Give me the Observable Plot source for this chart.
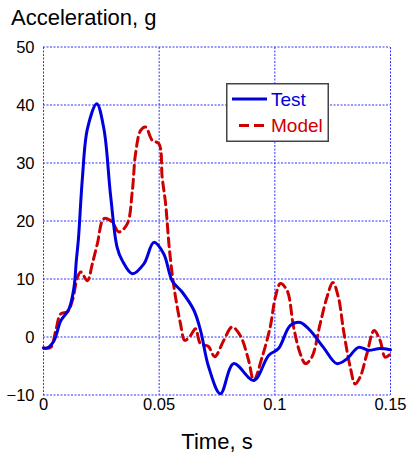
<!DOCTYPE html>
<html>
<head>
<meta charset="utf-8">
<script src="https://cdn.jsdelivr.net/npm/d3@7"></script>
<script src="https://cdn.jsdelivr.net/npm/@observablehq/plot@0.6"></script>
<style>
  html, body { margin: 0; padding: 0; background: #fff; }
  #wrap { position: relative; width: 407px; height: 456px; font-family: "Liberation Sans", Arial, sans-serif; }
  #title { position: absolute; left: 11px; top: 7px; font-size: 22px; line-height: 22px; color: #000; }
  #legend { position: absolute; left: 226px; top: 83px; }
  svg.chart text { fill: #000; }
  svg.chart g[aria-label="x-axis label"] text { font-size: 22px; }
</style>
</head>
<body>
<div id="wrap">
  <div id="title">Acceleration, g</div>
</div>
<script>
// Test series (time in s, acceleration in g)
const testTime = [0, 0.0017, 0.0046, 0.0075, 0.011, 0.0132, 0.0142, 0.0151, 0.0168, 0.019, 0.023, 0.0261, 0.029, 0.0318, 0.034, 0.0384, 0.0434, 0.0477, 0.052, 0.0556, 0.06, 0.065, 0.0679, 0.0714, 0.0765, 0.0822, 0.0909, 0.0973, 0.1016, 0.1067, 0.111, 0.1153, 0.121, 0.1268, 0.1311, 0.1362, 0.1405, 0.1455, 0.15];
const testAccel = [-1.8, -1.8, -0.5, 2.9, 4.9, 8.7, 13.3, 17, 27.4, 36, 40.3, 36, 24.5, 15.6, 13.3, 11, 12.7, 16.4, 14.4, 9.8, 7.8, 4.7, 1.2, -5.1, -9.7, -4.5, -7.4, -3.1, -1.9, 2.1, 2.6, 1.2, -1.7, -4.5, -3.7, -1.7, -2.2, -1.9, -2.1];

// Model series
const modelTime = [0, 0.0031, 0.0053, 0.0075, 0.0103, 0.0125, 0.0147, 0.0161, 0.019, 0.0211, 0.0233, 0.0261, 0.0295, 0.0326, 0.0362, 0.0384, 0.0398, 0.042, 0.0441, 0.047, 0.0499, 0.0513, 0.0528, 0.0542, 0.0556, 0.0571, 0.0592, 0.0611, 0.0635, 0.0657, 0.0679, 0.0712, 0.074, 0.0779, 0.0815, 0.0851, 0.0887, 0.0909, 0.0945, 0.098, 0.1002, 0.1024, 0.1053, 0.1081, 0.111, 0.1132, 0.116, 0.1196, 0.1225, 0.1251, 0.1275, 0.1297, 0.1326, 0.1347, 0.1369, 0.1398, 0.1429, 0.1455, 0.1477, 0.15];
const modelAccel = [-1.8, -1.7, 1.2, 4.1, 4.4, 6.4, 10.4, 11.3, 9.8, 12.7, 16.2, 20.5, 20, 18.2, 19.6, 25.3, 31.7, 35.7, 36.3, 34, 33.4, 27.6, 23, 16.2, 11, 6.9, 2.4, -0.5, 0.3, 1.5, -1.1, -1.5, -3.3, -0.5, 1.8, 0.3, -4, -7.4, -3.4, 1.8, 6.9, 9.3, 8.1, 1.8, -2.8, -4.5, -3.4, 2.4, 6.9, 9.5, 6.9, 1.2, -5.1, -8, -6.8, -2.8, 1.2, -0.5, -3.4, -2.8];

const xTicks = [0, 0.05, 0.1, 0.15];
const xTickLabels = ["0", "0.05", "0.1", "0.15"];
const yTicks = [-10, 0, 10, 20, 30, 40, 50];

const seriesNames = ["Test", "Model"];
const seriesColors = ["#0000dd", "#cc0000"];

const test = testTime.map((t, i) => ({t, a: testAccel[i]}));
const model = modelTime.map((t, i) => ({t, a: modelAccel[i]}));

const gridStyle = {stroke: "#3030ff", strokeWidth: 1, strokeDasharray: "2,1.5"};

const chart = Plot.plot({
  width: 407,
  height: 456,
  marginTop: 47,
  marginBottom: 61,
  marginLeft: 43,
  marginRight: 17,
  style: {fontFamily: "'Liberation Sans', Arial, sans-serif", fontSize: "16.5px", color: "#000", background: "#fff"},
  x: {domain: [0, 0.15]},
  y: {domain: [-10, 50]},
  marks: [
    Plot.ruleX(xTicks, {...gridStyle}),
    Plot.ruleY(yTicks, {...gridStyle, dy: -0.5}),
    Plot.axisY({ticks: yTicks, tickSize: 0, tickPadding: 9, label: null, fontSize: 16.5}),
    Plot.axisX({ticks: xTicks, tickSize: 0, tickPadding: 3, tickFormat: (d, i) => xTickLabels[i], label: "Time, s", labelAnchor: "center", labelArrow: "none", labelOffset: 53, fontSize: 16.5}),
    Plot.line(model, {x: "t", y: "a", stroke: seriesColors[1], strokeWidth: 3, strokeDasharray: "9,5", curve: "catmull-rom"}),
    Plot.line(test, {x: "t", y: "a", stroke: seriesColors[0], strokeWidth: 3, curve: "catmull-rom"})
  ]
});
chart.classList.add("chart");
document.getElementById("wrap").prepend(chart);

// Legend
const legend = document.createElement("div");
legend.id = "legend";
legend.innerHTML = `
<svg width="103" height="59" style="font-family:'Liberation Sans', Arial, sans-serif; font-size:19px; display:block">
  <rect x="0.75" y="0.75" width="101.5" height="57.5" fill="#fff" stroke="#444" stroke-width="1.5"/>
  <line x1="6" y1="16" x2="41" y2="16" stroke="${seriesColors[0]}" stroke-width="3"/>
  <text x="45" y="23" fill="${seriesColors[0]}">${seriesNames[0]}</text>
  <line x1="13" y1="42.5" x2="39" y2="42.5" stroke="${seriesColors[1]}" stroke-width="3" stroke-dasharray="10,5"/>
  <text x="45" y="49" fill="${seriesColors[1]}">${seriesNames[1]}</text>
</svg>`;
document.getElementById("wrap").appendChild(legend);
</script>
</body>
</html>
